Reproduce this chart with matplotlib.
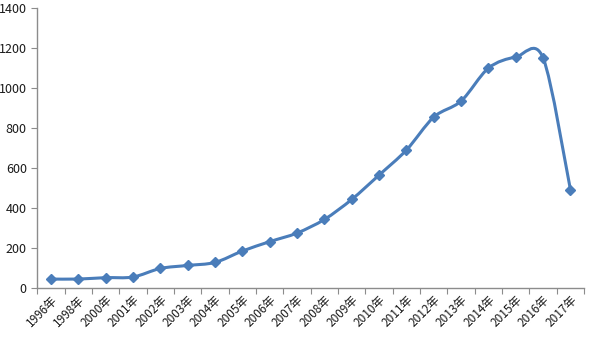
import numpy as np
import matplotlib.pyplot as plt
from matplotlib.path import Path
from matplotlib.patches import PathPatch

plt.rcParams['font.family'] = ['Noto Sans CJK SC', 'DejaVu Sans']

# data
years = ['1996年', '1998年', '2000年', '2001年', '2002年', '2003年', '2004年',
         '2005年', '2006年', '2007年', '2008年', '2009年', '2010年', '2011年',
         '2012年', '2013年', '2014年', '2015年', '2016年', '2017年']
values = [45, 45, 52, 55, 98, 113, 128, 185, 232, 275, 343, 443, 565, 690,
          855, 935, 1100, 1155, 1150, 490]
y_ticks = [0, 200, 400, 600, 800, 1000, 1200, 1400]

line_color = '#4A7DBA'
axis_color = '#8C8C8C'

fig = plt.figure(figsize=(6.01, 3.5), dpi=100)
ax = fig.add_axes([0.062, 0.177, 0.910, 0.800])

x = np.arange(len(years))
y = np.array(values, dtype=float)

# smoothed line, office-style: catmull-rom segments as cubic beziers
verts = [(x[0], y[0])]
codes = [Path.MOVETO]
n = len(x)
k = 1 / 6.5
for i in range(n - 1):
    p0 = np.array([x[max(i - 1, 0)], y[max(i - 1, 0)]])
    p1 = np.array([x[i], y[i]])
    p2 = np.array([x[i + 1], y[i + 1]])
    p3 = np.array([x[min(i + 2, n - 1)], y[min(i + 2, n - 1)]])
    c1 = p1 + (p2 - p0) * k
    c2 = p2 - (p3 - p1) * k
    verts += [tuple(c1), tuple(c2), tuple(p2)]
    codes += [Path.CURVE4, Path.CURVE4, Path.CURVE4]
ax.add_patch(PathPatch(Path(verts, codes), facecolor='none',
                       edgecolor=line_color, linewidth=2.2, zorder=3))
ax.plot(x, y, linestyle='none', marker='D', markersize=5.5,
        color=line_color, zorder=4)

ax.set_xlim(-0.5, len(years) - 0.5)
ax.set_ylim(0, 1400)
ax.set_yticks(y_ticks)
ax.tick_params(axis='y', labelsize=9, colors='#1a1a1a', length=4,
               color=axis_color)

# category ticks at boundaries, labels at centres
ax.set_xticks(np.arange(len(years) + 1) - 0.5)
ax.set_xticklabels([])
ax.tick_params(axis='x', which='major', length=4, color=axis_color)
ax.set_xticks(x, minor=True)
ax.set_xticklabels(years, minor=True, rotation=45, ha='right',
                   rotation_mode='anchor', fontsize=8.5, color='#1a1a1a')
ax.tick_params(axis='x', which='minor', length=0, pad=4)

for side in ['top', 'right']:
    ax.spines[side].set_visible(False)
for side in ['left', 'bottom']:
    ax.spines[side].set_color(axis_color)
    ax.spines[side].set_linewidth(1.0)

fig.savefig('out.png', dpi=100)
